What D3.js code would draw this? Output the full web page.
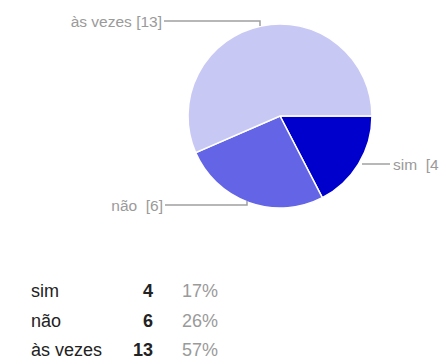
<!DOCTYPE html>
<html><head><meta charset="utf-8">
<script src="https://cdn.jsdelivr.net/npm/d3@7"></script>
<style>body{margin:0;background:#fff;overflow:hidden}svg{display:block}</style>
</head><body>
<script>
const categories = ["sim", "não", "às vezes"];
const counts = [4, 6, 13];
const percents = ["17%", "26%", "57%"];
const calloutLabels = ["sim  [4", "não  [6]", "às vezes [13]"];
const colors = ["#0000cc", "#6464e6", "#c8c8f4"];

const W = 441, H = 363;
const svg = d3.select("body").append("svg").attr("width", W).attr("height", H);
const cx = 280, cy = 116, R = 92;

const pie = d3.pie().sort(null).value(d => d.v)
  .startAngle(Math.PI / 2).endAngle(Math.PI / 2 + 2 * Math.PI);
const data = categories.map((c, i) => ({ c, v: counts[i], col: colors[i] }));
const arcs = pie(data);
const arc = d3.arc().innerRadius(0).outerRadius(R);

const g = svg.append("g").attr("transform", `translate(${cx},${cy})`);
g.selectAll("path").data(arcs).enter().append("path")
  .attr("d", arc).attr("fill", d => d.data.col)
  .attr("stroke", "#fff").attr("stroke-width", 1.5);

// callout labels
const lab = svg.append("g").attr("font-family", "Liberation Sans, Arial, sans-serif")
  .attr("font-size", 15.5).attr("fill", "#9a9a9a");
const callouts = [
  { i: 2, tx: 162, ty: 21, pts: [[164, 21], [260, 21], [260, 26]], anchor: "end" },
  { i: 1, tx: 163, ty: 205, pts: [[165, 205], [247, 205], [247, 201]], anchor: "end" },
  { i: 0, tx: 393, ty: 164, pts: [[362, 164], [390, 164]], anchor: "start" }
];
callouts.forEach(c => {
  lab.append("path").attr("d", d3.line()(c.pts)).attr("fill", "none")
    .attr("stroke", "#a0a0a0").attr("stroke-width", 1.5);
  lab.append("text").attr("x", c.tx).attr("y", c.ty).attr("dy", "0.36em")
    .attr("text-anchor", c.anchor).attr("xml:space", "preserve")
    .style("white-space", "pre").text(calloutLabels[c.i]);
});

// table
const y = d3.scalePoint().domain(categories).range([297, 356]);
const t = svg.append("g").attr("font-family", "Liberation Sans, Arial, sans-serif").attr("font-size", 18);
categories.forEach((c, i) => {
  const yy = y(c);
  t.append("text").attr("x", 31).attr("y", yy).attr("fill", "#222").text(c);
  t.append("text").attr("x", 153).attr("y", yy).attr("text-anchor", "end")
    .attr("font-weight", "bold").attr("fill", "#222").text(counts[i]);
  t.append("text").attr("x", 182).attr("y", yy).attr("fill", "#9a9a9a").text(percents[i]);
});
</script>
</body></html>
